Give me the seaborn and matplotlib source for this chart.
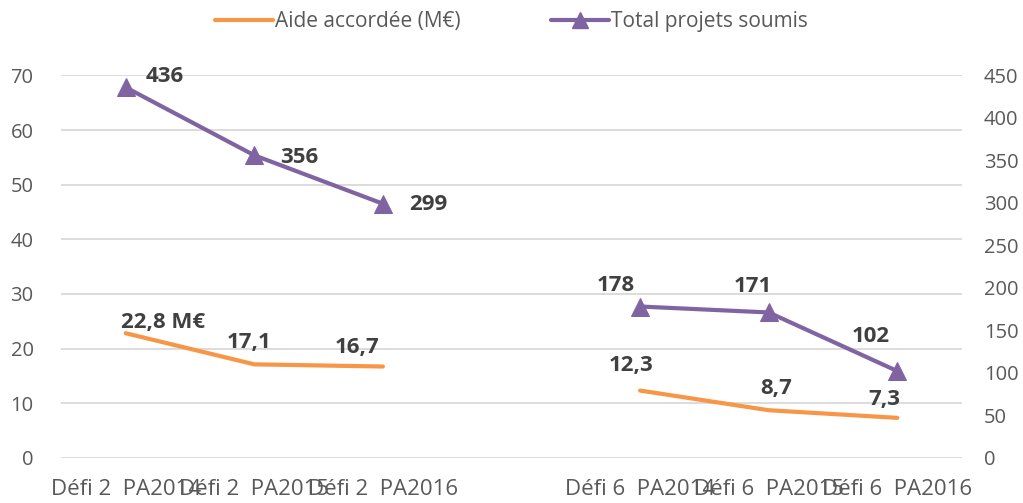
import numpy as np
import pandas as pd
import matplotlib.pyplot as plt
import seaborn as sns
from matplotlib.lines import Line2D

categories = ['Défi 2  PA2014', 'Défi 2  PA2015', 'Défi 2  PA2016', '',
              'Défi 6  PA2014', 'Défi 6  PA2015', 'Défi 6  PA2016']
groupes = ['Défi 2', 'Défi 2', 'Défi 2', None, 'Défi 6', 'Défi 6', 'Défi 6']
aide = [22.8, 17.1, 16.7, np.nan, 12.3, 8.7, 7.3]
projets = [436, 356, 299, np.nan, 178, 171, 102]
aide_labels = ['22,8 M€', '17,1', '16,7', '', '12,3', '8,7', '7,3']
projets_labels = ['436', '356', '299', '', '178', '171', '102']

orange = '#F79646'
violet = '#8064A2'
gris = '#595959'

sns.set_style('white')
plt.rcParams['font.family'] = ['Open Sans', 'DejaVu Sans']

df = pd.DataFrame({'x': range(len(categories)), 'groupe': groupes,
                   'aide': aide, 'projets': projets}).dropna()

fig, ax = plt.subplots(figsize=(10.23, 5.03), dpi=100)
fig.subplots_adjust(left=0.06, right=0.94, top=0.85, bottom=0.09)
ax2 = ax.twinx()

for g, sub in df.groupby('groupe'):
    sns.lineplot(data=sub, x='x', y='aide', ax=ax, color=orange, linewidth=3,
                 legend=False)
    sns.lineplot(data=sub, x='x', y='projets', ax=ax2, color=violet, linewidth=3,
                 marker='^', markersize=13, markeredgecolor=violet, legend=False)

ax.set_xlim(-0.5, len(categories) - 0.5)
ax.set_ylim(0, 70)
ax2.set_ylim(0, 450)
ax.set_yticks(range(0, 71, 10))
ax2.set_yticks(range(0, 451, 50))
ax.set_xticks(range(len(categories)))
ax.set_xticklabels(categories)
ax.yaxis.grid(True, color='#D9D9D9', linewidth=1.3)
ax.set_axisbelow(True)
ax.set_xlabel('')
ax.set_ylabel('')
ax2.set_ylabel('')
for a in (ax, ax2):
    for s in a.spines.values():
        s.set_visible(False)
    a.tick_params(length=0, labelsize=14.5, colors=gris)
ax.tick_params(axis='x', pad=15, labelsize=16)
ax.tick_params(axis='y', pad=20)
ax2.tick_params(axis='y', pad=16)

lab = dict(fontsize=16, fontweight='bold', color='#404040',
           textcoords='offset pixels', ha='center', va='center')
# décalages des étiquettes (pixels, y vers le haut)
offs_aide = [(37, 11), (-5, 22), (-26, 19), None, (-9, 25), (7, 22), (-13, 18)]
offs_proj = [(39, 11), (45, -2), (45, -1), None, (-24, 21), (-16, 26), (-27, 35)]
for i, (v, t) in enumerate(zip(aide, aide_labels)):
    if np.isnan(v):
        continue
    ax.annotate(t, (i, v), xytext=offs_aide[i], **lab)
for i, (v, t) in enumerate(zip(projets, projets_labels)):
    if np.isnan(v):
        continue
    ax2.annotate(t, (i, v), xytext=offs_proj[i], **lab)

handles = [Line2D([], [], color=orange, linewidth=3),
           Line2D([], [], color=violet, linewidth=3, marker='^', markersize=12)]
fig.legend(handles, ['Aide accordée (M€)', 'Total projets soumis'],
           loc='upper center', bbox_to_anchor=(0.5, 1.015), ncol=2, frameon=False,
           fontsize=15, labelcolor=gris, handlelength=2.8, handletextpad=0.1,
           columnspacing=4.3)

fig.savefig('out.png', dpi=100)
